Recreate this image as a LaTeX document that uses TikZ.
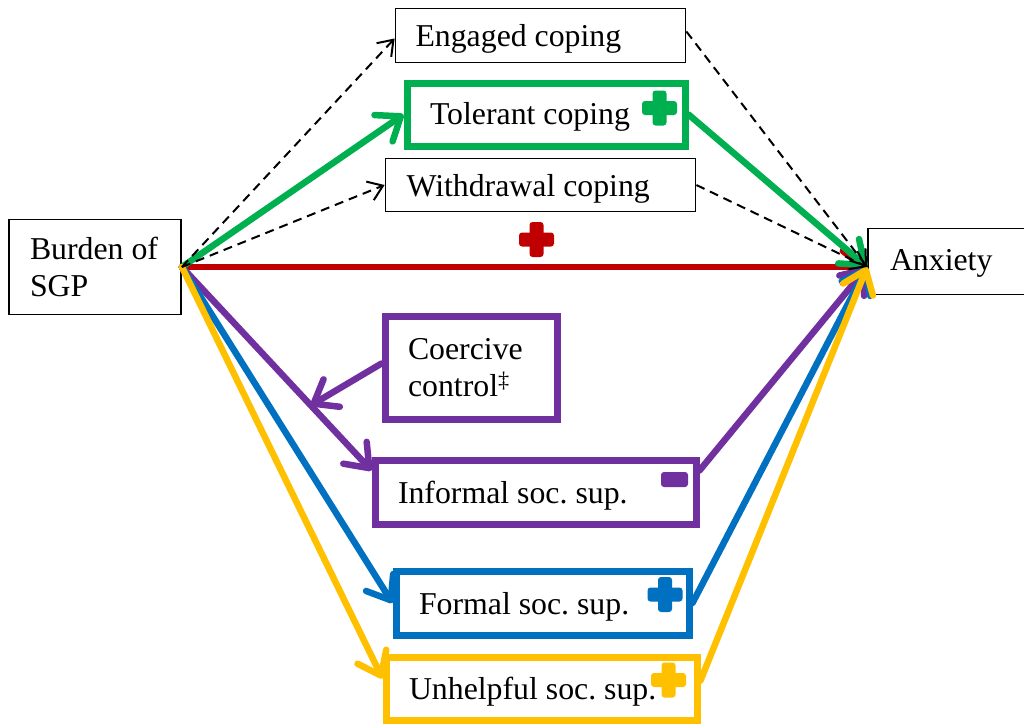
\documentclass[tikz,border=0pt]{standalone}
\usepackage{fontspec}
\setmainfont{Liberation Serif}
\usetikzlibrary{arrows.meta}
\definecolor{cgreen}{HTML}{00B050}
\definecolor{cred}{HTML}{C00000}
\definecolor{cpurple}{HTML}{7030A0}
\definecolor{cblue}{HTML}{0070C0}
\definecolor{cyellow}{HTML}{FFC000}
\begin{document}
\begin{tikzpicture}[x=1pt,y=-1pt,
  font=\fontsize{31.8}{36.5}\selectfont\frenchspacing,
  box/.style={draw=black, line width=1.8pt, fill=white, align=flush left, inner ysep=0pt},
  thickbox/.style={box, draw=#1, line width=7pt},
  oneline/.style={text height=#1, text depth=0pt},
  oneline/.default=22pt,
  flow/.style={line width=6.5pt, line cap=round, -{Straight Barb[length=21pt,width=32pt,round]}},
  dashflow/.style={line width=2pt, dash pattern=on 9pt off 6pt, -{Straight Barb[length=14pt,width=20pt]}},
  plusmark/.pic={
    \fill[rounded corners=3pt] (-7,-17.5) rectangle (7,17.5);
    \fill[rounded corners=3pt] (-17.5,-7) rectangle (17.5,7);},
  minusmark/.pic={\fill[rounded corners=3pt] (-13.5,-7.5) rectangle (13.5,7.5);}
]
\useasboundingbox (0,0) rectangle (1024,724);

% boxes
\node[box, minimum height=95pt, inner xsep=21pt, text width=130pt] (burden) at (95,267) {Burden of\\SGP};
\node[box, oneline, minimum height=54pt, inner xsep=20pt, text width=250pt] (engaged) at (540.5,35.5) {Engaged coping};
\node[thickbox=cgreen, oneline=19pt, minimum height=63pt, inner xsep=23pt, text width=232pt] (tolerant) at (546,114.5) {Tolerant coping};
\node[box, oneline, minimum height=53pt, inner xsep=21pt, text width=268pt] (withdrawal) at (540.5,185) {Withdrawal coping};
\node[box, oneline=18pt, minimum height=66pt, inner xsep=22pt, text width=128pt] (anxiety) at (954,261.5) {Anxiety};
\node[thickbox=cpurple, minimum height=103pt, inner xsep=23pt, text width=126pt] (coercive) at (471,367.5) {Coercive\\control\textsuperscript{‡}};
\node[thickbox=cpurple, oneline, minimum height=64pt, inner xsep=23pt, text width=275pt] (informal) at (535.5,492) {Informal soc. sup.};
\node[thickbox=cblue, oneline, minimum height=64pt, inner xsep=23pt, text width=247pt] (formal) at (542.5,603) {Formal soc. sup.};
\node[thickbox=cyellow, oneline, minimum height=63pt, inner xsep=23pt, text width=265pt] (unhelpful) at (541.5,688.5) {Unhelpful soc. sup.};

\coordinate (hub) at (burden.east -| anxiety.west);

% paths from the burden box
\draw[flow, cred] (burden.east) -- (hub);
\draw[flow, cgreen] (burden.east) -- (tolerant.west);
\draw[flow, cpurple] (burden.east) -- coordinate[pos=0.68] (onpurple) ([yshift=-14pt]informal.north west);
\draw[flow, cblue] (burden.east) -- (formal.west);
\draw[flow, cyellow] (burden.east) -- ([yshift=10pt]unhelpful.west);
\draw[dashflow] (burden.east) -- ([yshift=-3pt]engaged.west);
\draw[dashflow] (burden.east) -- (withdrawal.west);

% moderator
\draw[flow, cpurple] ([yshift=4pt]coercive.west) -- (onpurple);

% paths into anxiety
\draw[flow, cgreen] (tolerant.east) -- (hub);
\draw[flow, cpurple] ([yshift=-14pt]informal.north east) -- (hub);
\draw[flow, cblue] (formal.east) -- (hub);
\draw[flow, cyellow] ([yshift=8pt]unhelpful.east) -- (hub);
\draw[dashflow] ([yshift=4pt]engaged.east) -- (hub);
\draw[dashflow] (withdrawal.east) -- (hub);

% signs of the effects
\pic[fill=cred] at (536.5,239.5) {plusmark};
\pic[fill=cgreen] at (659.5,108) {plusmark};
\pic[fill=cblue] at (665,594.5) {plusmark};
\pic[fill=cyellow] at (668.5,680) {plusmark};
\pic[fill=cpurple] at (674.5,479.5) {minusmark};
\end{tikzpicture}
\end{document}
